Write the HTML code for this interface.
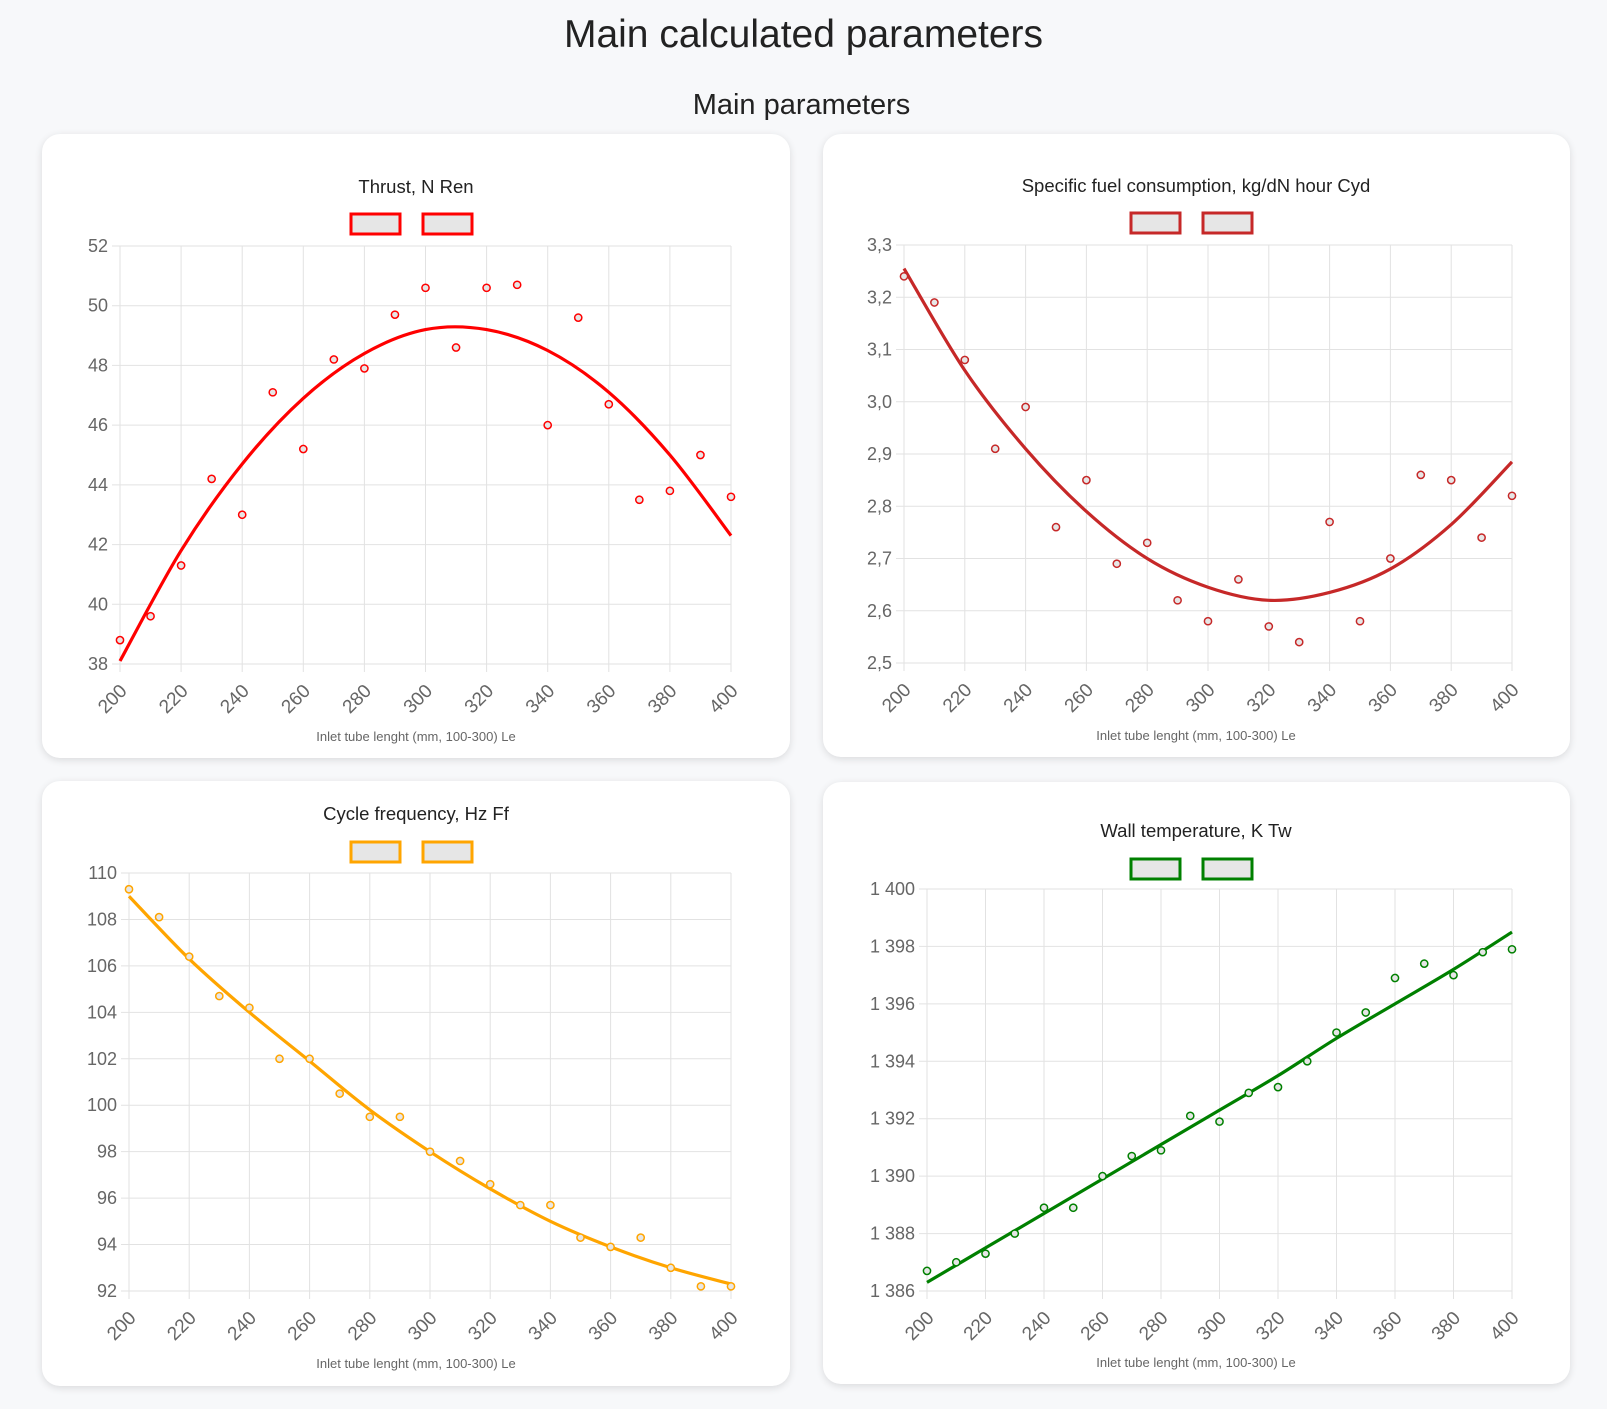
<!DOCTYPE html>
<html><head><meta charset="utf-8"><style>
body{margin:0;width:1607px;height:1409px;background:#f7f8fa;font-family:"Liberation Sans",sans-serif;position:relative;overflow:hidden}
.card{position:absolute;background:#fff;border-radius:18px;box-shadow:0 2px 8px rgba(0,0,0,0.12)}
h1{position:absolute;top:13px;left:0;width:1607px;text-align:center;margin:0;font-weight:normal;font-size:39px;color:#222}
h2{position:absolute;top:89px;left:0;width:1603px;text-align:center;margin:0;font-weight:normal;font-size:29px;color:#222}
svg{position:absolute;left:0;top:0}
</style></head><body>
<h1>Main calculated parameters</h1>
<h2>Main parameters</h2>
<div class="card" style="left:42px;top:134px;width:748px;height:624px"></div>
<div class="card" style="left:823px;top:134px;width:747px;height:623px"></div>
<div class="card" style="left:42px;top:781px;width:748px;height:605px"></div>
<div class="card" style="left:823px;top:782px;width:747px;height:602px"></div>
<svg id="s" width="1607" height="1409"></svg>
<script>
const xCats=[200,210,220,230,240,250,260,270,280,290,300,310,320,330,340,350,360,370,380,390,400];
const xTicks=[200,220,240,260,280,300,320,340,360,380,400];
const curveX=[200,220,240,260,280,300,320,340,360,380,400];
const thrustPts=[38.8,39.6,41.3,44.2,43.0,47.1,45.2,48.2,47.9,49.7,50.6,48.6,50.6,50.7,46.0,49.6,46.7,43.5,43.8,45.0,43.6];
const thrustFit=[38.1,41.8,44.7,46.9,48.4,49.2,49.2,48.5,47.1,45.0,42.3];
const thrustTicks=[38,40,42,44,46,48,50,52];
const sfcPts=[3.24,3.19,3.08,2.91,2.99,2.76,2.85,2.69,2.73,2.62,2.58,2.66,2.57,2.54,2.77,2.58,2.70,2.86,2.85,2.74,2.82];
const sfcFit=[3.255,3.06,2.91,2.79,2.70,2.645,2.62,2.635,2.68,2.765,2.885];
const sfcTicks=[2.5,2.6,2.7,2.8,2.9,3.0,3.1,3.2,3.3];
const freqPts=[109.3,108.1,106.4,104.7,104.2,102.0,102.0,100.5,99.5,99.5,98.0,97.6,96.6,95.7,95.7,94.3,93.9,94.3,93.0,92.2,92.2];
const freqFit=[109.0,106.3,104.0,101.9,99.8,98.0,96.4,95.0,93.9,93.0,92.3];
const freqTicks=[92,94,96,98,100,102,104,106,108,110];
const wallPts=[1386.7,1387.0,1387.3,1388.0,1388.9,1388.9,1390.0,1390.7,1390.9,1392.1,1391.9,1392.9,1393.1,1394.0,1395.0,1395.7,1396.9,1397.4,1397.0,1397.8,1397.9];
const wallFit=[1386.3,1387.5,1388.7,1389.9,1391.1,1392.3,1393.5,1394.8,1396.0,1397.2,1398.5];
const wallTicks=[1386,1388,1390,1392,1394,1396,1398,1400];

const NS='http://www.w3.org/2000/svg';const S=document.getElementById('s');
function mk(t,a,p){const e=document.createElementNS(NS,t);for(const k in a)e.setAttribute(k,a[k]);(p||S).appendChild(e);return e;}
function chart(o){
 const g=mk('g',{});
 
 
 const ymin=o.ticks[0],ymax=o.ticks[o.ticks.length-1];
 const X=v=>o.l+(v-200)/200*(o.r-o.l);
 const Y=v=>o.b-(v-ymin)/(ymax-ymin)*(o.b-o.t);
 const cx=(o.l+o.r)/2;
 const tt=mk('text',{x:o.cc,y:o.titleY,'text-anchor':'middle','font-size':18.5,fill:'#222'},g);tt.textContent=o.title;
 
 
 [o.cc-41,o.cc+31].forEach((lx,i)=>{const r=mk('rect',{x:lx-24,y:o.legY,width:49,height:20,fill:'#e6e6e6',stroke:o.color,'stroke-width':3},g);
  
  });
 o.ticks.forEach(v=>{const y=Y(v);mk('line',{x1:o.l-8,x2:o.r,y1:y,y2:y,stroke:'#e2e2e2'},g);
  const t=mk('text',{x:o.l-12,y:y+6,'text-anchor':'end','font-size':18,fill:'#666'},g);t.textContent=o.fmt(v);
  
  });
 xTicks.forEach(v=>{const x=X(v);mk('line',{x1:x,x2:x,y1:o.t,y2:o.b+8,stroke:'#e2e2e2'},g);
  const t=mk('text',{transform:`translate(${x+8},${o.b+28}) rotate(-45)`,'text-anchor':'end','font-size':19,fill:'#666'},g);t.textContent=v;
  
  });
 const xt=mk('text',{x:o.cc,y:o.xtY,'text-anchor':'middle','font-size':13,fill:'#666'},g);xt.textContent='Inlet tube lenght (mm, 100-300) Le';
 
 
 const P=curveX.map((v,i)=>[X(v),Y(o.fit[i])]);
 let d='M'+P[0][0]+','+P[0][1];
 for(let i=0;i<P.length-1;i++){const p0=P[i-1]||P[i],p1=P[i],p2=P[i+1],p3=P[i+2]||P[i+1];
  d+=` C${p1[0]+(p2[0]-p0[0])/6},${p1[1]+(p2[1]-p0[1])/6} ${p2[0]-(p3[0]-p1[0])/6},${p2[1]-(p3[1]-p1[1])/6} ${p2[0]},${p2[1]}`;}
 const c=mk('path',{d:d,fill:'none',stroke:o.color,'stroke-width':3.2},g);
 
 
 o.pts.forEach((v,i)=>{const p=mk('circle',{cx:X(xCats[i]),cy:Y(v),r:3.6,fill:'#e6e6e6',stroke:o.color,'stroke-width':1.5},g);
  
  });
}
const n=v=>String(v);
chart({name:'thrust-chart',title:'Thrust, N Ren',color:'#ff0000',cc:416,l:120,r:731,t:246,b:664,titleY:193,legY:214,xtY:741,pts:thrustPts,fit:thrustFit,ticks:thrustTicks,fmt:n});
chart({name:'sfc-chart',title:'Specific fuel consumption, kg/dN hour Cyd',color:'#c62828',cc:1196,l:904,r:1512,t:245,b:663,titleY:192,legY:213,xtY:740,pts:sfcPts,fit:sfcFit,ticks:sfcTicks,fmt:v=>v.toFixed(1).replace('.',',')});
chart({name:'frequency-chart',title:'Cycle frequency, Hz Ff',color:'#ffa500',cc:416,l:129,r:731,t:873,b:1291,titleY:820,legY:842,xtY:1368,pts:freqPts,fit:freqFit,ticks:freqTicks,fmt:n});
chart({name:'wall-temp-chart',title:'Wall temperature, K Tw',color:'#008000',cc:1196,l:927,r:1512,t:889,b:1291,titleY:837,legY:859,xtY:1367,pts:wallPts,fit:wallFit,ticks:wallTicks,fmt:v=>String(v).replace(/^(\d)(\d{3})$/,'$1 $2')});
</script>
</body></html>
